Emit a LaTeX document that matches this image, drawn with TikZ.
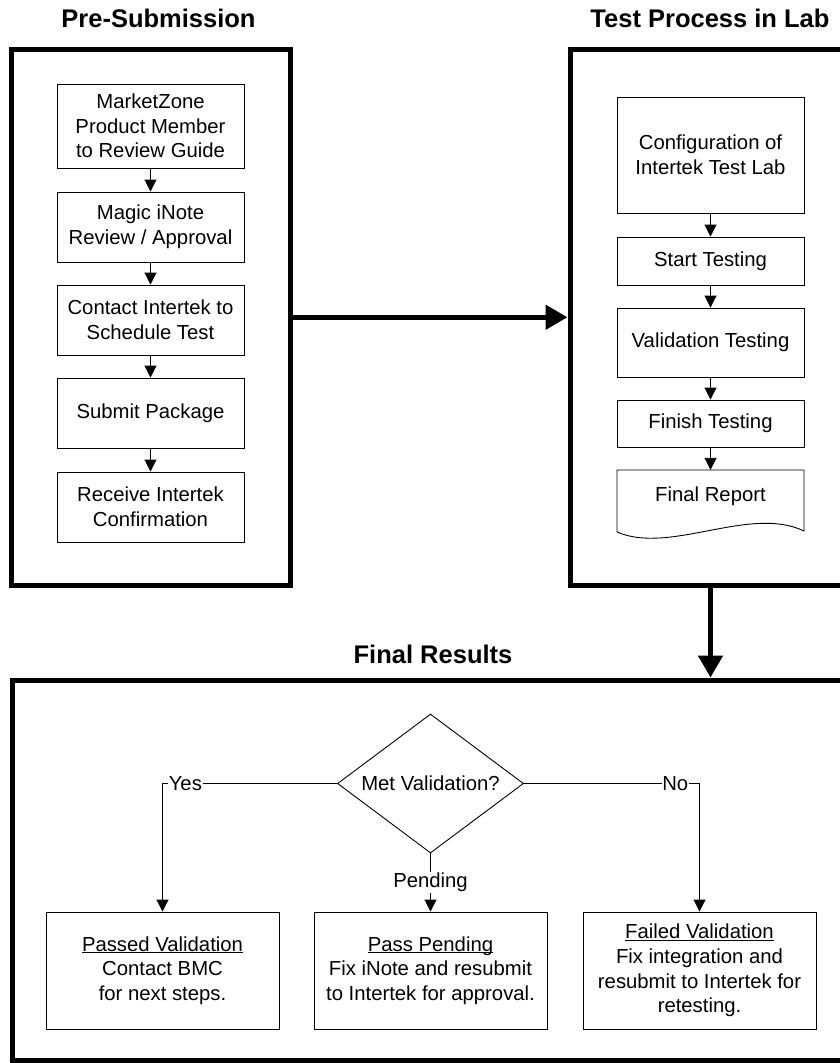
\documentclass[tikz,border=0pt]{standalone}
\usepackage{fontspec}
\setmainfont{Liberation Sans}
\usetikzlibrary{arrows.meta,shapes.geometric,calc}
\begin{document}
\begin{tikzpicture}[x=1pt,y=-1pt,
  every node/.style={font=\fontsize{20.3pt}{24.7pt}\selectfont, align=center, inner sep=0pt},
  box/.style={draw, line width=0.9pt, minimum width=187pt},
  rbox/.style={draw, line width=0.9pt, minimum width=233pt, minimum height=117pt},
  frame/.style={draw, line width=5pt},
  title/.style={font=\fontsize{25.5pt}{30pt}\selectfont\bfseries, anchor=base},
  arr/.style={line width=0.9pt, -{Triangle[length=12pt,width=12pt]}},
  bigarr/.style={line width=5pt, -{Triangle[length=22pt,width=24pt]}},
  lab/.style={fill=white, inner sep=0.6pt}
]
\useasboundingbox (0,0) rectangle (840,1063);
\clip (0,0) rectangle (840,1063);

% containers
\node[frame, minimum width=279pt, minimum height=535.5pt] (preC) at (150.75,317.25) {};
\node[frame, minimum width=530pt, minimum height=535.5pt] (labC) at (835,317.25) {};
\node[frame, minimum width=1088pt, minimum height=380pt] (resC) at (556,870) {};

% titles
\node[title] (t1) at (158.5,27.8) {Pre-Submission};
\node[title] (t2) at (710,27) {Test Process in Lab};
\node[title] (t3) at (433,663) {Final Results};

% pre-submission steps
\node[box, minimum height=84pt] (m1) at (150.5,126) {MarketZone\\Product Member\\to Review Guide};
\node[box, minimum height=70pt] (m2) at (150.5,227) {Magic iNote\\Review / Approval};
\node[box, minimum height=70pt] (m3) at (150.5,320) {Contact Intertek to\\Schedule Test};
\node[box, minimum height=70pt] (m4) at (150.5,413) {Submit Package};
\node[box, minimum height=70pt] (m5) at (150.5,507) {Receive Intertek\\Confirmation};

% lab steps
\node[box, minimum height=116pt] (c1) at (710.5,155) {Configuration of\\Intertek Test Lab};
\node[box, minimum height=48pt] (c2) at (710.5,261) {Start Testing};
\node[box, minimum height=69pt] (c3) at (710.5,342.5) {Validation Testing};
\node[box, minimum height=47pt] (c4) at (710.5,423.5) {Finish Testing};
\node[minimum width=187pt, minimum height=52pt] (rep) at (710.5,496) {Final Report};
\draw[line width=0.9pt] (617,470) -- (804,470) -- (804,531)
  .. controls (750,505) and (670,555) .. (617,532) -- cycle;

\foreach \a/\b in {m1/m2,m2/m3,m3/m4,m4/m5,c1/c2,c2/c3,c3/c4,c4/rep}
  \draw[arr] (\a) -- (\b);

% big arrows
\draw[bigarr] (preC.east) -- (labC.west);
\draw[bigarr] (c1 |- labC.south) -- (c1 |- resC.north);

% decision
\node[draw, diamond, aspect=1.34, line width=0.9pt, minimum width=186pt, minimum height=139pt] (dec) at (430.5,783.5) {Met Validation?};

\node[rbox] (pass) at (162.5,970.5) {\underline{Passed Validation}\\Contact BMC\\for next steps.};
\node[rbox] (pend) at (430.5,970.5) {\underline{Pass Pendin\smash{g}}\\Fix iNote and resubmit\\to Intertek for approval.};
\node[rbox] (fail) at (699.5,970.5) {\underline{Failed Validation}\\Fix integration and\\resubmit to Intertek for\\retesting.};

\draw[arr] (dec.west) -| (pass.north);
\node[lab, anchor=west] (yes) at ($(pass.north |- dec.west)+(5.5,0)$) {Yes};
\draw[arr] (dec.east) -| (fail.north);
\node[lab, anchor=east] (no) at ($(fail.north |- dec.east)+(-10.5,0)$) {No};
\draw[arr] (dec.south) -- (pend.north);
\node[lab] (pl) at ($(dec.south)!0.5!(pend.north)$) {Pending};
\end{tikzpicture}
\end{document}
